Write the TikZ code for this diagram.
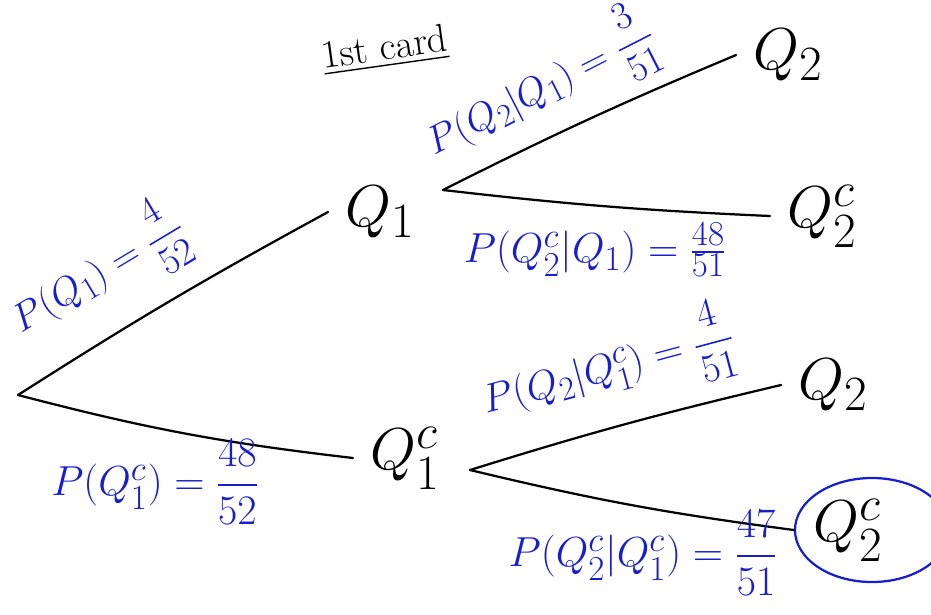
\documentclass[tikz,border=0pt]{standalone}
\usepackage{amsmath}
\usetikzlibrary{shapes.geometric,positioning}
\definecolor{inkblue}{RGB}{25,30,205}
\tikzset{
  outcome/.style = {font=\Huge, scale=1.69, inner sep=7pt},
  branch/.style = {line width=1.6pt, line cap=round},
  prob/.style = {text=inkblue, font=\Huge, scale=1.2, inner sep=1pt},
  ring/.style = {ellipse, draw=inkblue, line width=1.6pt, minimum width=3.85cm, minimum height=2.6cm}
}
\begin{document}
\begin{tikzpicture}[x=0.025cm, y=-0.025cm]
\useasboundingbox (0,0) rectangle (931,614);

\node[rotate=8, font=\fontsize{28}{32}\selectfont] (title) at (385,50) {\underline{1st card}};

% outcomes
\coordinate (root) at (18,395);
\node[outcome] (q1) at (380,212) {$Q_1$};
\node[outcome] (q1c) at (405,458) {$Q_1^c$};
\coordinate (fork1) at (443,190);
\coordinate (fork2) at (470,470);
\node[outcome] (q2a) at (788,55) {$Q_2$};
\node[outcome] (q2b) at (822,216) {$Q_2^c$};
\node[outcome] (q2c) at (833,385) {$Q_2$};
\node[outcome] (q2d) at (848,530) {$Q_2^c$};
\node[ring] (circ) at (872,530) {};

% branches
\draw[branch] (root) to[bend left=2] (q1.west);
\draw[branch] (root) to[bend right=4] (q1c.west);
\draw[branch] (fork1) to[bend left=2] (q2a.west);
\draw[branch] (fork1) to[bend right=2] (q2b.west);
\draw[branch] (fork2) to[bend left=2] (q2c.west);
\draw[branch] (fork2) to[bend right=3] (circ.west);

% probabilities
\node[prob, rotate=31, scale=0.93] (pq1) at (98,273) {$P(Q_1) = \dfrac{4}{52}$};
\node[prob] (pq1c) at (155,482) {$P(Q_1^c) = \dfrac{48}{52}$};
\node[prob, rotate=27, scale=0.93] (pq2a) at (540,88) {$P(Q_2|Q_1) = \dfrac{3}{51}$};
\node[prob] (pq2b) at (595,250) {$P(Q_2^c|Q_1) = \frac{48}{51}$};
\node[prob, rotate=15, scale=0.96] (pq2c) at (608,368) {$P(Q_2|Q_1^c) = \dfrac{4}{51}$};
\node[prob] (pq2d) at (643,553) {$P(Q_2^c|Q_1^c) = \dfrac{47}{51}$};

\end{tikzpicture}
\end{document}
